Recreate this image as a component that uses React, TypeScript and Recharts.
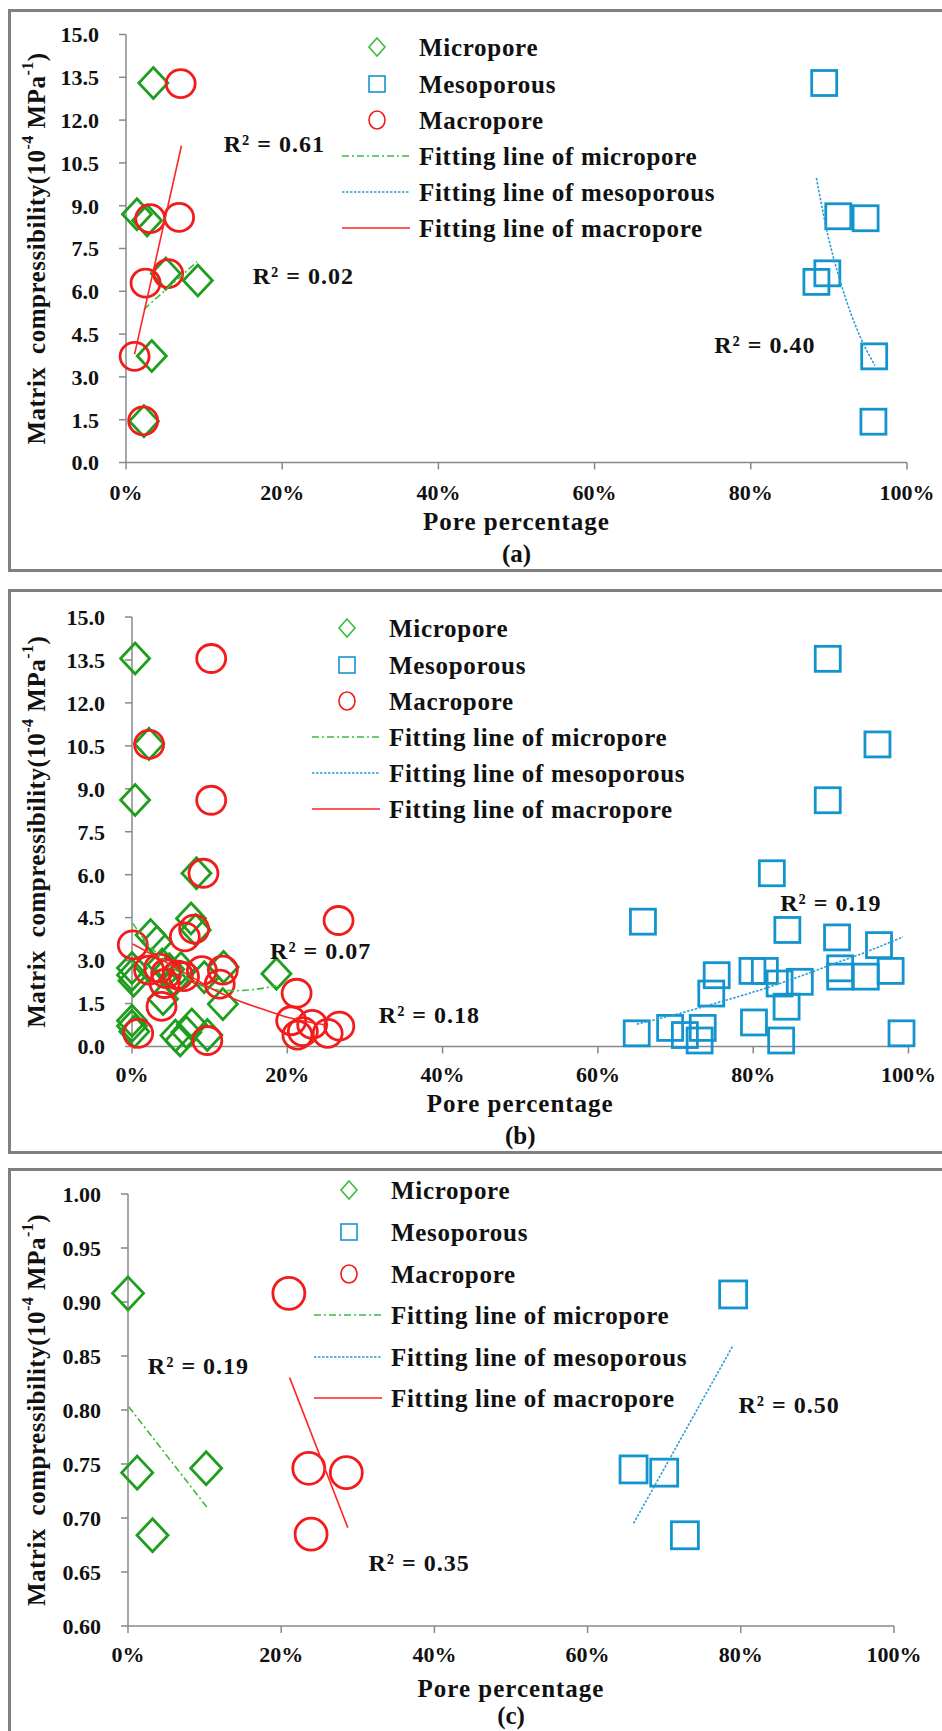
import React from "react";
import { ScatterChart, Scatter, XAxis, YAxis } from "recharts";

type Pt = { p: number; c: number };
type Note = { p: number; c: number; t: string };

// ---- panel (a) ----
const microA: Pt[] = [
  { p: 3.5, c: 13.3 }, { p: 1.4, c: 8.7 }, { p: 2.7, c: 8.48 }, { p: 5.1, c: 6.62 },
  { p: 9.2, c: 6.38 }, { p: 3.3, c: 3.73 }, { p: 2.3, c: 1.45 },
];
const mesoA: Pt[] = [
  { p: 89.4, c: 13.3 }, { p: 91.2, c: 8.63 }, { p: 94.7, c: 8.56 }, { p: 89.8, c: 6.63 },
  { p: 88.4, c: 6.33 }, { p: 95.8, c: 3.72 }, { p: 95.7, c: 1.43 },
];
const macroA: Pt[] = [
  { p: 7.0, c: 13.28 }, { p: 3.1, c: 8.55 }, { p: 6.8, c: 8.59 }, { p: 2.5, c: 6.29 },
  { p: 5.4, c: 6.62 }, { p: 1.1, c: 3.72 }, { p: 2.2, c: 1.46 },
];
const microFitA: Pt[] = [{ p: 2.3, c: 5.37 }, { p: 9.1, c: 7.04 }];
const mesoFitA: Pt[] = [
  { p: 88.4, c: 9.97 }, { p: 89.9, c: 7.93 }, { p: 91.4, c: 6.4 }, { p: 94.4, c: 4.17 }, { p: 95.9, c: 3.4 },
];
const macroFitA: Pt[] = [{ p: 1.1, c: 3.8 }, { p: 7.1, c: 11.1 }];
const notesA: Note[] = [
  { p: 19.0, c: 11.15, t: "R² = 0.61" },
  { p: 22.7, c: 6.52, t: "R² = 0.02" },
  { p: 81.8, c: 4.12, t: "R² = 0.40" },
];

// ---- panel (b) ----
const microB: Pt[] = [
  { p: 0.4, c: 13.55 }, { p: 2.2, c: 10.57 }, { p: 0.4, c: 8.61 }, { p: 8.3, c: 6.05 },
  { p: 7.6, c: 4.47 }, { p: 8.2, c: 4.07 }, { p: 2.4, c: 3.89 }, { p: 3.2, c: 3.65 },
  { p: 0, c: 2.74 }, { p: 0, c: 2.5 }, { p: 0.2, c: 2.3 }, { p: 3.9, c: 2.86 },
  { p: 4.8, c: 2.7 }, { p: 6.3, c: 2.74 }, { p: 5.4, c: 2.3 }, { p: 9.3, c: 2.42 },
  { p: 11.8, c: 2.78 }, { p: 18.6, c: 2.54 }, { p: 4.0, c: 1.66 }, { p: 11.7, c: 1.48 },
  { p: 0, c: 0.9 }, { p: 0, c: 0.72 }, { p: 0.3, c: 0.52 }, { p: 6.2, c: 0.21 },
  { p: 7.0, c: 0.5 }, { p: 7.7, c: 0.77 }, { p: 9.7, c: 0.4 }, { p: 5.6, c: 0.38 },
];
const mesoB: Pt[] = [
  { p: 89.6, c: 13.54 }, { p: 96.0, c: 10.55 }, { p: 89.6, c: 8.6 }, { p: 82.4, c: 6.05 },
  { p: 65.8, c: 4.36 }, { p: 84.4, c: 4.07 }, { p: 90.8, c: 3.81 }, { p: 96.2, c: 3.54 },
  { p: 97.7, c: 2.64 }, { p: 91.2, c: 2.73 }, { p: 91.2, c: 2.44 }, { p: 94.5, c: 2.44 },
  { p: 79.9, c: 2.64 }, { p: 81.5, c: 2.64 }, { p: 75.3, c: 2.49 }, { p: 83.4, c: 2.2 },
  { p: 86.0, c: 2.26 }, { p: 74.6, c: 1.85 }, { p: 84.3, c: 1.39 }, { p: 80.1, c: 0.84 },
  { p: 83.6, c: 0.21 }, { p: 69.3, c: 0.65 }, { p: 71.2, c: 0.4 }, { p: 73.1, c: 0.21 },
  { p: 73.5, c: 0.65 }, { p: 65.0, c: 0.46 }, { p: 99.1, c: 0.46 },
];
const macroB: Pt[] = [
  { p: 10.2, c: 13.55 }, { p: 2.2, c: 10.55 }, { p: 10.2, c: 8.6 }, { p: 9.2, c: 6.05 },
  { p: 26.6, c: 4.4 }, { p: 0.1, c: 3.55 }, { p: 6.8, c: 3.83 }, { p: 8.0, c: 4.1 },
  { p: 2.2, c: 2.67 }, { p: 3.5, c: 2.74 }, { p: 4.4, c: 2.55 }, { p: 4.2, c: 2.2 },
  { p: 5.9, c: 2.49 }, { p: 6.7, c: 2.44 }, { p: 9.0, c: 2.65 }, { p: 11.7, c: 2.67 },
  { p: 11.3, c: 2.18 }, { p: 3.8, c: 1.4 }, { p: 21.2, c: 1.86 }, { p: 0.8, c: 0.46 },
  { p: 9.7, c: 0.21 }, { p: 20.5, c: 0.9 }, { p: 21.3, c: 0.4 }, { p: 22.0, c: 0.52 },
  { p: 23.2, c: 0.77 }, { p: 25.2, c: 0.46 }, { p: 26.7, c: 0.71 },
];
const microFitB: Pt[] = [
  { p: 0.1, c: 4.3 }, { p: 2, c: 3.6 }, { p: 4, c: 3.05 }, { p: 6, c: 2.6 }, { p: 8, c: 2.25 },
  { p: 10.4, c: 2.0 }, { p: 13, c: 1.95 }, { p: 16, c: 2.0 }, { p: 18.6, c: 2.12 },
];
const mesoFitB: Pt[] = [
  { p: 65, c: 0.78 }, { p: 70, c: 1.12 }, { p: 75, c: 1.5 }, { p: 80, c: 1.9 },
  { p: 85, c: 2.35 }, { p: 90, c: 2.85 }, { p: 95, c: 3.35 }, { p: 99.3, c: 3.83 },
];
const macroFitB: Pt[] = [
  { p: 0.1, c: 3.58 }, { p: 2, c: 3.3 }, { p: 5, c: 2.85 }, { p: 8, c: 2.38 }, { p: 10.4, c: 2.0 },
  { p: 13, c: 1.68 }, { p: 16, c: 1.38 }, { p: 20, c: 1.02 }, { p: 25, c: 0.75 },
];
const notesB: Note[] = [
  { p: 24.3, c: 3.33, t: "R² = 0.07" },
  { p: 38.3, c: 1.1, t: "R² = 0.18" },
  { p: 90.0, c: 5.01, t: "R² = 0.19" },
];

// ---- panel (c) ----
const microC: Pt[] = [
  { p: 0, c: 0.908 }, { p: 1.2, c: 0.742 }, { p: 10.2, c: 0.746 }, { p: 3.2, c: 0.684 },
];
const mesoC: Pt[] = [
  { p: 79.0, c: 0.907 }, { p: 66.0, c: 0.745 }, { p: 70.0, c: 0.742 }, { p: 72.7, c: 0.684 },
];
const macroC: Pt[] = [
  { p: 21.0, c: 0.908 }, { p: 23.6, c: 0.746 }, { p: 28.5, c: 0.742 }, { p: 23.9, c: 0.685 },
];
const microFitC: Pt[] = [{ p: 0.1, c: 0.803 }, { p: 10.3, c: 0.71 }];
const mesoFitC: Pt[] = [{ p: 66.0, c: 0.695 }, { p: 79.0, c: 0.86 }];
const macroFitC: Pt[] = [{ p: 21.1, c: 0.83 }, { p: 28.7, c: 0.691 }];
const notesC: Note[] = [
  { p: 9.2, c: 0.841, t: "R² = 0.19" },
  { p: 38.0, c: 0.658, t: "R² = 0.35" },
  { p: 86.3, c: 0.805, t: "R² = 0.50" },
];

const xTicks = [0, 20, 40, 60, 80, 100];
const yTicks15 = [0, 1.5, 3, 4.5, 6, 7.5, 9, 10.5, 12, 13.5, 15];
const yTicksC = [0.6, 0.65, 0.7, 0.75, 0.8, 0.85, 0.9, 0.95, 1.0];
const legendLabels = [
  "Micropore",
  "Mesoporous",
  "Macropore",
  "Fitting line of micropore",
  "Fitting line of mesoporous",
  "Fitting line of macropore",
];

const FONT = '"Liberation Serif", "Times New Roman", serif';
const GREEN = "#1d9e1d";
const BLUE = "#1394cf";
const RED = "#f21c1c";
const GREEN_FIT = "#3dbb3d";
const BLUE_FIT = "#2a9fd6";
const RED_FIT = "#ff2424";
const AXIS = "#888888";
const INK = "#111111";
const W = 942;

const diamond = (hw: number, hh: number) => (props: any) => {
  const { cx, cy } = props;
  if (cx == null || cy == null) return <g />;
  return (
    <path
      d={`M${cx},${cy - hh}L${cx + hw},${cy}L${cx},${cy + hh}L${cx - hw},${cy}Z`}
      fill="none"
      stroke={GREEN}
      strokeWidth={2.8}
    />
  );
};
const square = (s: number) => (props: any) => {
  const { cx, cy } = props;
  if (cx == null || cy == null) return <g />;
  return <rect x={cx - s / 2} y={cy - s / 2} width={s} height={s} fill="none" stroke={BLUE} strokeWidth={2.8} />;
};
const ring = (rx: number, ry: number) => (props: any) => {
  const { cx, cy } = props;
  if (cx == null || cy == null) return <g />;
  return <ellipse cx={cx} cy={cy} rx={rx} ry={ry} fill="none" stroke={RED} strokeWidth={2.8} />;
};
const hidden = () => <g />;
const noteShape = (props: any) => {
  const { cx, cy, payload } = props;
  if (cx == null || cy == null) return <g />;
  return (
    <text
      x={cx}
      y={cy}
      textAnchor="middle"
      dominantBaseline="central"
      fontFamily={FONT}
      fontWeight={700}
      fontSize={24}
      letterSpacing={1}
      fill={INK}
    >
      {payload.t}
    </text>
  );
};

type PanelCfg = {
  letter: string;
  frameTop: number;
  frameBottom: number;
  top: number;
  height: number;
  plotLeft: number;
  plotRight: number;
  plotTop: number;
  plotBottom: number;
  yDomain: [number, number];
  yTicks: number[];
  yDigits: number;
  micro: Pt[];
  meso: Pt[];
  macro: Pt[];
  microFit: Pt[];
  mesoFit: Pt[];
  macroFit: Pt[];
  notes: Note[];
  legendX: number;
  legendRows: number[];
  tickGap: number;
  titleGap: number;
  letterGap: number;
  big: boolean;
};

function Legend({ x, rows }: { x: number; rows: number[] }) {
  return (
    <g>
      <path d={`M${x},${rows[0] - 9}L${x + 8},${rows[0]}L${x},${rows[0] + 9}L${x - 8},${rows[0]}Z`} fill="none" stroke={GREEN_FIT} strokeWidth={1.6} />
      <rect x={x - 8} y={rows[1] - 8} width={16} height={16} fill="none" stroke={BLUE} strokeWidth={1.6} />
      <ellipse cx={x} cy={rows[2]} rx={8} ry={9} fill="none" stroke={RED} strokeWidth={1.6} />
      <line x1={x - 35} x2={x + 33} y1={rows[3]} y2={rows[3]} stroke={GREEN_FIT} strokeWidth={1.6} strokeDasharray="7 3 2 3" />
      <line x1={x - 35} x2={x + 33} y1={rows[4]} y2={rows[4]} stroke={BLUE_FIT} strokeWidth={1.6} strokeDasharray="2.5 1.5" />
      <line x1={x - 35} x2={x + 33} y1={rows[5]} y2={rows[5]} stroke={RED_FIT} strokeWidth={1.6} />
      {legendLabels.map((t, i) => (
        <text
          key={t}
          x={x + 42}
          y={rows[i]}
          dominantBaseline="central"
          fontFamily={FONT}
          fontWeight={700}
          fontSize={25}
          letterSpacing={0.7}
          fill={INK}
        >
          {t}
        </text>
      ))}
    </g>
  );
}

function Panel({ cfg }: { cfg: PanelCfg }) {
  const h = cfg.height;
  const xAxisH = 30;
  const margin = {
    top: cfg.plotTop - cfg.top,
    right: W - cfg.plotRight,
    bottom: cfg.top + h - cfg.plotBottom - xAxisH,
    left: 0,
  };
  const tickStyle = { fill: INK, fontSize: 22, fontFamily: FONT, fontWeight: 700 };
  const midX = (cfg.plotLeft + cfg.plotRight) / 2;
  const midY = (cfg.plotTop + cfg.plotBottom) / 2 - cfg.top;
  const bottom = cfg.plotBottom - cfg.top;
  const d = cfg.big ? { hw: 15.5, hh: 16.5, s: 27, rx: 16, ry: 16 } : { hw: 14.5, hh: 15.5, s: 25, rx: 14.5, ry: 14 };

  return (
    <>
      <div
        style={{
          position: "absolute",
          left: 8,
          top: cfg.frameTop,
          width: 960,
          height: cfg.frameBottom - cfg.frameTop,
          border: "3px solid #808080",
          boxSizing: "border-box",
        }}
      />
      <div style={{ position: "absolute", left: 0, top: cfg.top }}>
        <ScatterChart width={W} height={h} margin={margin}>
          <XAxis
            type="number"
            dataKey="p"
            domain={[0, 100]}
            ticks={xTicks}
            interval={0}
            height={xAxisH}
            tickFormatter={(v: number) => `${v}%`}
            stroke={AXIS}
            strokeWidth={1.5}
            tickSize={7}
            tickMargin={cfg.tickGap}
            tick={tickStyle}
          />
          <YAxis
            type="number"
            dataKey="c"
            domain={cfg.yDomain}
            ticks={cfg.yTicks}
            interval={0}
            width={cfg.plotLeft}
            tickFormatter={(v: number) => v.toFixed(cfg.yDigits)}
            stroke={AXIS}
            strokeWidth={1.5}
            tickSize={7}
            tickMargin={20}
            tick={tickStyle}
          />
          <Scatter data={cfg.micro} shape={diamond(d.hw, d.hh)} isAnimationActive={false} />
          <Scatter data={cfg.meso} shape={square(d.s)} isAnimationActive={false} />
          <Scatter data={cfg.macro} shape={ring(d.rx, d.ry)} isAnimationActive={false} />
          <Scatter
            data={cfg.microFit}
            shape={hidden}
            line={{ stroke: GREEN_FIT, strokeWidth: 1.6, strokeDasharray: "7 3 2 3" }}
            lineJointType="monotoneX"
            isAnimationActive={false}
          />
          <Scatter
            data={cfg.mesoFit}
            shape={hidden}
            line={{ stroke: BLUE_FIT, strokeWidth: 1.6, strokeDasharray: "2.5 1.5" }}
            lineJointType="monotoneX"
            isAnimationActive={false}
          />
          <Scatter
            data={cfg.macroFit}
            shape={hidden}
            line={{ stroke: RED_FIT, strokeWidth: 1.6 }}
            lineJointType="monotoneX"
            isAnimationActive={false}
          />
          <Scatter data={cfg.notes} shape={noteShape} isAnimationActive={false} />
        </ScatterChart>
      </div>
      <svg
        width={W}
        height={h}
        style={{ position: "absolute", left: 0, top: cfg.top, pointerEvents: "none", overflow: "visible" }}
      >
        <Legend x={cfg.legendX} rows={cfg.legendRows.map((r) => r - cfg.top)} />
        <text
          transform={`translate(36,${midY}) rotate(-90)`}
          textAnchor="middle"
          dominantBaseline="central"
          fontFamily={FONT}
          fontWeight={700}
          fontSize={25}
          letterSpacing={0.5}
          fill={INK}
        >
          {"Matrix "}
          <tspan dx={6}>compressibility(10</tspan>
          <tspan dy={-9} fontSize={16}>-4</tspan>
          <tspan dy={9}>{" MPa"}</tspan>
          <tspan dy={-9} fontSize={16}>-1</tspan>
          <tspan dy={9}>)</tspan>
        </text>
        <text
          x={midX}
          y={bottom + cfg.titleGap}
          textAnchor="middle"
          dominantBaseline="central"
          fontFamily={FONT}
          fontWeight={700}
          fontSize={25}
          letterSpacing={1}
          fill={INK}
        >
          Pore percentage
        </text>
        <text
          x={midX}
          y={bottom + cfg.letterGap}
          textAnchor="middle"
          dominantBaseline="central"
          fontFamily={FONT}
          fontWeight={700}
          fontSize={25}
          fill={INK}
        >
          {cfg.letter}
        </text>
      </svg>
    </>
  );
}

const panels: PanelCfg[] = [
  {
    letter: "(a)",
    frameTop: 9,
    frameBottom: 572,
    top: 0,
    height: 580,
    plotLeft: 126,
    plotRight: 907,
    plotTop: 34.5,
    plotBottom: 462.5,
    yDomain: [0, 15],
    yTicks: yTicks15,
    yDigits: 1,
    micro: microA,
    meso: mesoA,
    macro: macroA,
    microFit: microFitA,
    mesoFit: mesoFitA,
    macroFit: macroFitA,
    notes: notesA,
    legendX: 377,
    legendRows: [47, 84, 120, 156, 192, 228],
    tickGap: 15,
    titleGap: 58.5,
    letterGap: 90.5,
    big: false,
  },
  {
    letter: "(b)",
    frameTop: 589,
    frameBottom: 1154,
    top: 580,
    height: 580,
    plotLeft: 132,
    plotRight: 908.5,
    plotTop: 617,
    plotBottom: 1046.5,
    yDomain: [0, 15],
    yTicks: yTicks15,
    yDigits: 1,
    micro: microB,
    meso: mesoB,
    macro: macroB,
    microFit: microFitB,
    mesoFit: mesoFitB,
    macroFit: macroFitB,
    notes: notesB,
    legendX: 347,
    legendRows: [628, 665, 701, 737, 773, 809],
    tickGap: 13,
    titleGap: 56.5,
    letterGap: 89,
    big: false,
  },
  {
    letter: "(c)",
    frameTop: 1168,
    frameBottom: 1760,
    top: 1160,
    height: 571,
    plotLeft: 128,
    plotRight: 894,
    plotTop: 1194,
    plotBottom: 1626,
    yDomain: [0.6, 1.0],
    yTicks: yTicksC,
    yDigits: 2,
    micro: microC,
    meso: mesoC,
    macro: macroC,
    microFit: microFitC,
    mesoFit: mesoFitC,
    macroFit: macroFitC,
    notes: notesC,
    legendX: 349,
    legendRows: [1190, 1232, 1274, 1315, 1357, 1398],
    tickGap: 13,
    titleGap: 62,
    letterGap: 89,
    big: true,
  },
];

export default function App() {
  return (
    <div
      style={{
        position: "absolute",
        left: 0,
        top: 0,
        width: W,
        height: 1731,
        overflow: "hidden",
        background: "#ffffff",
      }}
    >
      {panels.map((cfg) => (
        <Panel key={cfg.letter} cfg={cfg} />
      ))}
    </div>
  );
}
